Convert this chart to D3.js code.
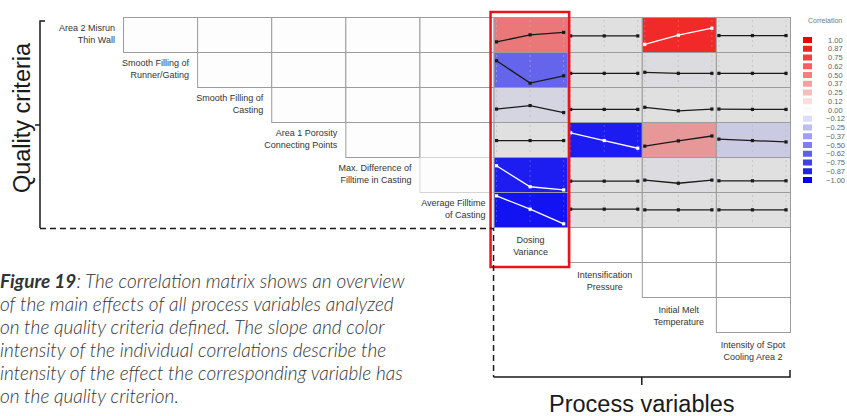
<!DOCTYPE html>
<html>
<head>
<meta charset="utf-8">
<script src="https://cdn.jsdelivr.net/npm/d3@7"></script>
<style>
  body { margin: 0; background: #fff; overflow: hidden; }
  svg { display: block; }
</style>
</head>
<body>
<div id="chart"></div>
<script>
// quality criteria (rows) and process variables (columns)
const qualityLabels = [
    ["Area 2 Misrun", "Thin Wall"],
    ["Smooth Filling of", "Runner/Gating"],
    ["Smooth Filling of", "Casting"],
    ["Area 1 Porosity", "Connecting Points"],
    ["Max. Difference of", "Filltime in Casting"],
    ["Average Filltime", "of Casting"]
];
const processLabels = [
    ["Dosing", "Variance"],
    ["Intensification", "Pressure"],
    ["Initial Melt", "Temperature"],
    ["Intensity of Spot", "Cooling Area 2"]
];

// correlation of each process variable with each quality criterion
const corrDosing    = [0.50, -0.55, -0.05, 0.00, -0.87, -0.92];
const corrPressure  = [0.00, 0.00, 0.00, -0.88, 0.00, 0.00];
const corrMelt      = [0.88, -0.02, 0.00, 0.35, -0.02, 0.00];
const corrCooling   = [0.00, 0.00, 0.00, -0.10, 0.00, 0.00];

// main effect (relative response, low / mid / high setting)
const effectDosing = [
    [29, 49, 56], [75, 11, 32], [37, 47, 27], [47, 47, 47], [75, 15, 6], [89, 51, 9]
];
const effectPressure = [
    [46, 46, 46], [39, 39, 39], [36, 36, 36], [69, 47, 25], [31, 31, 31], [51, 51, 51]
];
const effectMelt = [
    [22, 48, 68], [42, 39, 39], [42, 32, 37], [31, 46, 60], [34, 25, 34], [49, 49, 49]
];
const effectCooling = [
    [47, 47, 47], [39, 39, 39], [37, 36, 36], [51, 47, 43], [32, 32, 32], [49, 49, 49]
];

const legendTicks = [1.00, 0.87, 0.75, 0.62, 0.50, 0.37, 0.25, 0.12, 0.00,
    -0.12, -0.25, -0.37, -0.50, -0.62, -0.75, -0.87, -1.00];

const captionLines = [
    "The correlation matrix shows an overview",
    "of the main effects of all process variables analyzed",
    "on the quality criteria defined. The slope and color",
    "intensity of the individual correlations describe the",
    "intensity of the effect the corresponding variable has",
    "on the quality criterion."
];

function createMatrix() {
    var width = 847;
    var height = 416;
    var nQ = qualityLabels.length;
    var nP = processLabels.length;

    var corr = [corrDosing, corrPressure, corrMelt, corrCooling];
    var effects = [effectDosing, effectPressure, effectMelt, effectCooling];

    // 5 scatter columns + 4 process columns
    var x = d3.scaleBand()
        .domain(d3.range(nQ - 1 + nP))
        .range([123, 790]);
    var y = d3.scaleBand()
        .domain(d3.range(nQ + nP))
        .range([17, 367]);

    var cellColor = d3.scaleLinear()
        .domain([-1, 0, 1])
        .range(["#0000f5", "#e0e0e0", "#f51010"]);
    var legendColor = d3.scaleLinear()
        .domain([-1, 0, 1])
        .range(["#0000e8", "#fbfbfb", "#f00000"]);

    var svg = d3.select("#chart")
        .append("svg")
            .attr("viewBox", [0, 0, width, height])
            .attr("width", width)
            .attr("height", height)
            .style("font-family", "'Liberation Sans', Arial, sans-serif");

    // scatter matrix among quality criteria (upper triangle)
    var scatter = svg.append("g");
    for (var r = 0; r < nQ - 1; r++) {
        for (var c = r; c < nQ - 1; c++) {
            scatter.append("rect")
                .attr("x", x(c) + 0.5)
                .attr("y", y(r) + 0.5)
                .attr("width", x.bandwidth())
                .attr("height", y.bandwidth())
                .attr("fill", "#fdfdfd")
                .attr("stroke", r == nQ - 2 ? "#d4d4d4" : "#9c9c9c")
                .attr("stroke-width", 1);
        }
    }

    // quality labels
    qualityLabels.forEach((lines, r) => {
        var t = svg.append("text")
            .attr("text-anchor", "end")
            .attr("font-size", 9)
            .attr("fill", "#333");
        lines.forEach((s, i) => {
            t.append("tspan")
                .attr("x", x(r) - 8)
                .attr("y", y(r) + 14 + i * 12)
                .text(s);
        });
    });

    // main effect cells
    var cells = svg.append("g");
    for (var j = 0; j < nP; j++) {
        var col = nQ - 1 + j;
        var x0 = x(col);
        var px = d3.scalePoint()
            .domain([0, 1, 2])
            .range([x0 + 3, x0 + x.bandwidth() - 4]);
        for (var r = 0; r < nQ; r++) {
            var v = corr[j][r];
            var g = cells.append("g");
            g.append("rect")
                .attr("x", x0 + 0.5)
                .attr("y", y(r) + 0.5)
                .attr("width", x.bandwidth())
                .attr("height", y.bandwidth())
                .attr("fill", cellColor(v))
                .attr("stroke", "#9c9c9c");
            var dark = Math.abs(v) > 0.7;
            [0, 1, 2].forEach(k => {
                g.append("line")
                    .attr("x1", px(k)).attr("x2", px(k))
                    .attr("y1", y(r) + 3).attr("y2", y(r) + y.bandwidth() - 3)
                    .attr("stroke", dark ? "rgba(255,255,255,0.35)" : "#b8b8b8")
                    .attr("stroke-width", 0.6)
                    .attr("stroke-dasharray", "2,3");
            });
            var py = d3.scaleLinear()
                .domain([0, 100])
                .range([y(r) + y.bandwidth(), y(r)]);
            var line = d3.line()
                .x((d, k) => px(k))
                .y(d => py(d));
            var stroke = dark ? "#fff" : "#1a1a1a";
            g.append("path")
                .datum(effects[j][r])
                .attr("fill", "none")
                .attr("stroke", stroke)
                .attr("stroke-width", 1.3)
                .attr("d", line);
            g.selectAll("rect.pt")
                .data(effects[j][r])
                .join("rect")
                    .attr("class", "pt")
                    .attr("x", (d, k) => px(k) - 1.6)
                    .attr("y", d => py(d) - 1.6)
                    .attr("width", 3.2)
                    .attr("height", 3.2)
                    .attr("fill", stroke);
        }
        // empty cells below, staircase
        for (var k = 0; k < j; k++) {
            cells.append("rect")
                .attr("x", x0 + 0.5)
                .attr("y", y(nQ + k) + 0.5)
                .attr("width", x.bandwidth())
                .attr("height", y.bandwidth())
                .attr("fill", "#fff")
                .attr("stroke", "#9c9c9c");
        }
        // process label
        var t = svg.append("text")
            .attr("text-anchor", "middle")
            .attr("font-size", 9)
            .attr("fill", "#333");
        processLabels[j].forEach((s, i) => {
            t.append("tspan")
                .attr("x", x0 + x.bandwidth() / 2)
                .attr("y", y(nQ + j) + 16 + i * 12)
                .text(s);
        });
    }

    // highlight frame on Dosing Variance
    svg.append("rect")
        .attr("x", x(nQ - 1) - 3)
        .attr("y", 12)
        .attr("width", x.bandwidth() + 4.5)
        .attr("height", 255)
        .attr("fill", "none")
        .attr("stroke", "#e8141c")
        .attr("stroke-width", 2.5);

    // brackets
    var yEnd = y(nQ);
    var xStart = x(nQ - 1);
    svg.append("path")
        .attr("d", `M45,21H40V${yEnd + 1}M40,125H35`)
        .attr("fill", "none")
        .attr("stroke", "#1a1a1a")
        .attr("stroke-width", 1.5);
    svg.append("path")
        .attr("d", `M40,${yEnd + 1.5}H${xStart}V377`)
        .attr("fill", "none")
        .attr("stroke", "#1a1a1a")
        .attr("stroke-width", 1.5)
        .attr("stroke-dasharray", "6,4");
    svg.append("path")
        .attr("d", `M${xStart},377H790V370M${x(nQ + 1)},377V385`)
        .attr("fill", "none")
        .attr("stroke", "#1a1a1a")
        .attr("stroke-width", 1.5);

    svg.append("text")
        .attr("transform", "translate(30,118) rotate(-90)")
        .attr("text-anchor", "middle")
        .attr("font-size", 23.5)
        .attr("fill", "#1a1a1a")
        .text("Quality criteria");
    svg.append("text")
        .attr("x", x(nQ + 1))
        .attr("y", 412)
        .attr("text-anchor", "middle")
        .attr("font-size", 23.5)
        .attr("fill", "#1a1a1a")
        .text("Process variables");

    // legend
    var ly = d3.scalePoint()
        .domain(legendTicks)
        .range([40, 180]);
    svg.append("text")
        .attr("x", 808)
        .attr("y", 23)
        .attr("font-size", 7)
        .attr("fill", "#777")
        .text("Correlation");
    var leg = svg.append("g")
        .selectAll("g")
        .data(legendTicks)
        .join("g");
    leg.append("rect")
        .attr("x", 803)
        .attr("y", d => ly(d) - 3)
        .attr("width", 9)
        .attr("height", 6)
        .attr("fill", d => legendColor(d));
    leg.append("text")
        .attr("x", d => d < 0 ? 826 : 828)
        .attr("y", d => ly(d) + 2.5)
        .attr("font-size", 7.5)
        .attr("fill", "#666")
        .text(d => d3.format(".2f")(d));

    // caption
    var cap = svg.append("text")
        .attr("font-family", "Lato, 'Open Sans', sans-serif")
        .attr("font-style", "italic")
        .attr("font-weight", 300)
        .attr("font-size", 19)
        .attr("fill", "#333");
    captionLines.forEach((s, i) => {
        var ts = cap.append("tspan")
            .attr("x", 0)
            .attr("y", 288 + i * 23);
        if (i == 0) {
            ts.append("tspan").attr("font-weight", 700).text("Figure 19");
            ts.append("tspan").text(": " + s);
        } else {
            ts.text(s);
        }
    });
}

createMatrix();
</script>
</body>
</html>
